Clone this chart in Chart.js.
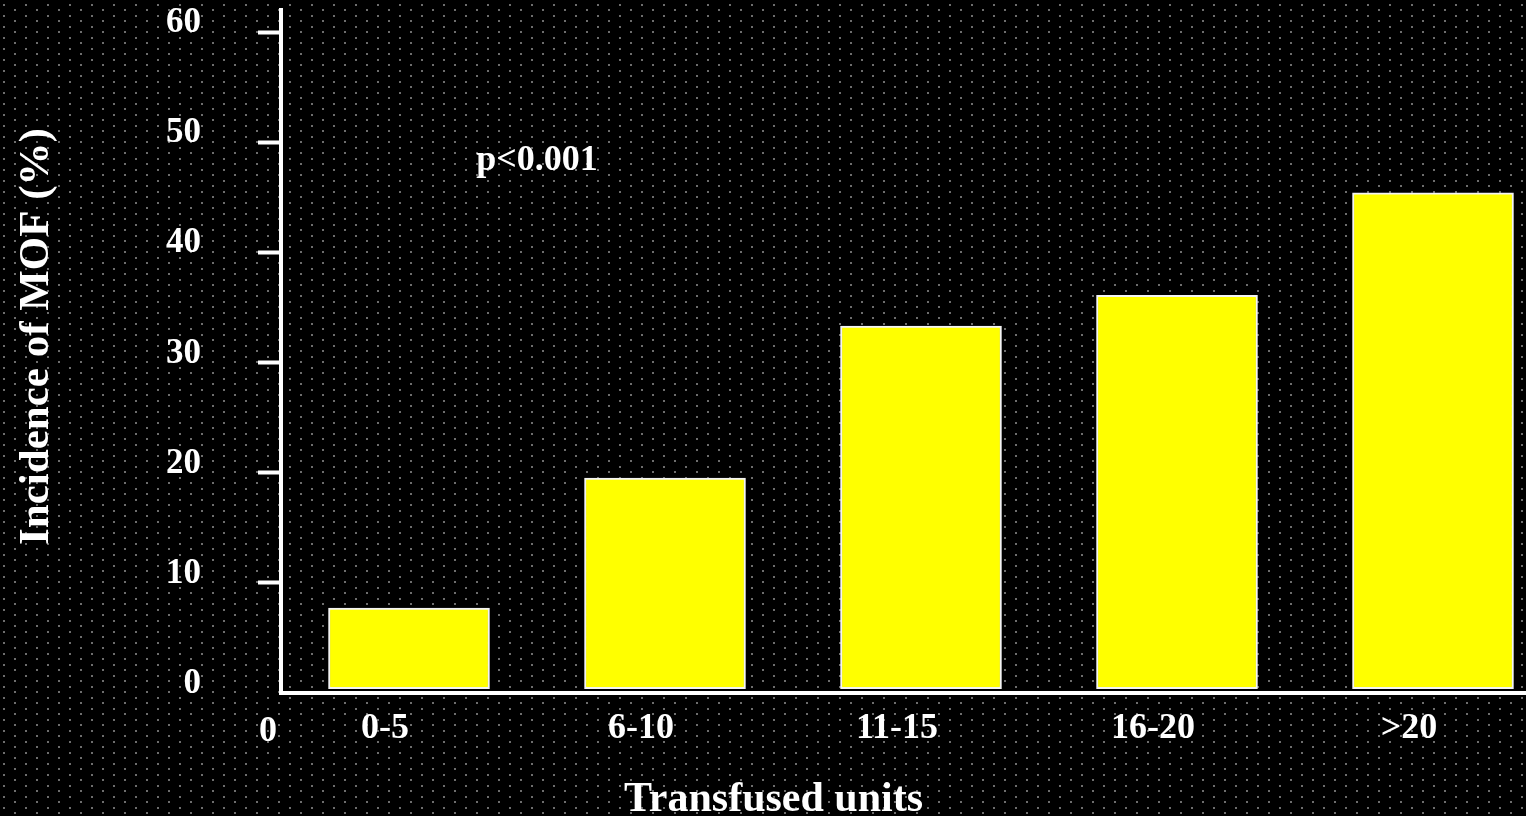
<!DOCTYPE html>
<html>
<head>
<meta charset="utf-8">
<title>Incidence of MOF</title>
<script src="https://cdn.jsdelivr.net/npm/chart.js@4.4.0/dist/chart.umd.min.js"></script>
<style>
  html, body { margin: 0; padding: 0; background: #000; overflow: hidden; }
  #grafico { position: absolute; left: 0; top: 0; width: 1561px; height: 816px; }
</style>
</head>
<body>
<div id="grafico"><canvas id="myChart"></canvas></div>
<script>
// dados
const categorias = ['0-5', '6-10', '11-15', '16-20', '>20'];
const incidencia = [7.7, 19.5, 33.3, 36.1, 45.4];
const ticksY = [0, 10, 20, 30, 40, 50, 60];
const pValor = 'p<0.001';
const pValorPos = { x: 0.5, y: 47.5 };

const fonte = '"Liberation Serif", "Times New Roman", serif';

// fundo preto com pontinhos cinza
const fundoPontilhado = {
  id: 'fundoPontilhado',
  beforeDraw(chart) {
    const tile = document.createElement('canvas');
    tile.width = 22;
    tile.height = 11;
    const t = tile.getContext('2d');
    t.fillStyle = '#000';
    t.fillRect(0, 0, 22, 11);
    t.fillStyle = '#6e6e6e';
    t.fillRect(3, 4, 2, 2);
    t.fillRect(14, 9, 2, 2);
    const ctx = chart.ctx;
    ctx.save();
    ctx.fillStyle = ctx.createPattern(tile, 'repeat');
    ctx.fillRect(0, 0, chart.width, chart.height);
    ctx.restore();
  }
};

// textos soltos: titulos, p valor e o zero da origem
const textos = {
  id: 'textos',
  afterDraw(chart) {
    const ctx = chart.ctx;
    const area = chart.chartArea;
    const x = chart.scales.x;
    const y = chart.scales.y;
    ctx.save();
    ctx.fillStyle = '#fff';
    ctx.textAlign = 'center';
    ctx.textBaseline = 'alphabetic';

    ctx.font = 'bold 36px ' + fonte;
    ctx.fillText(pValor, x.getPixelForValue(pValorPos.x), y.getPixelForValue(pValorPos.y));
    ctx.fillText('0', area.left - 13, area.bottom + 48);

    ctx.font = 'bold 42px ' + fonte;
    ctx.fillText('Transfused units', chart.width / 2 - 7, area.bottom + 118);

    ctx.font = 'bold 43px ' + fonte;
    ctx.translate(area.left - 244, (area.top + area.bottom) / 2 - 15);
    ctx.rotate(-Math.PI / 2);
    ctx.textBaseline = 'middle';
    ctx.fillText('Incidence of MOF (%)', 0, 0);
    ctx.restore();
  }
};

const ctx = document.getElementById('myChart');

new Chart(ctx, {
  type: 'bar',
  data: {
    labels: categorias,
    datasets: [{
      label: 'Incidence of MOF (%)',
      data: incidencia,
      backgroundColor: '#FFFF00',
      borderColor: '#f4f4f4',
      borderWidth: 2,
      borderSkipped: false,
      barThickness: 161,
      base: 0.4
    }]
  },
  options: {
    responsive: true,
    maintainAspectRatio: false,
    devicePixelRatio: 1,
    animation: false,
    layout: {
      padding: { top: 10, left: 166, right: 0, bottom: 51.8 }
    },
    plugins: {
      legend: { display: false },
      tooltip: { enabled: false }
    },
    scales: {
      x: {
        offset: true,
        grid: { display: false, drawTicks: false },
        border: { color: '#fff', width: 4 },
        ticks: {
          color: '#fff',
          font: { family: fonte, size: 36, weight: 'bold' },
          padding: 14,
          labelOffset: -24,
          maxRotation: 0
        }
      },
      y: {
        min: 0,
        max: 62,
        afterBuildTicks: (axis) => {
          axis.ticks = ticksY.map(v => ({ value: v }));
        },
        grid: {
          drawOnChartArea: false,
          tickLength: 80,
          tickWidth: 4,
          tickBorderDash: [0, 57, 23, 200],
          tickColor: (c) => (c.tick && c.tick.value === 0) ? 'rgba(0,0,0,0)' : '#fff'
        },
        border: { color: '#fff', width: 4 },
        ticks: {
          color: '#fff',
          font: { family: fonte, size: 35, weight: 'bold', lineHeight: 0.5 },
          padding: 0,
          labelOffset: -9,
          autoSkip: false
        }
      }
    }
  },
  plugins: [fundoPontilhado, textos]
});
</script>
</body>
</html>
